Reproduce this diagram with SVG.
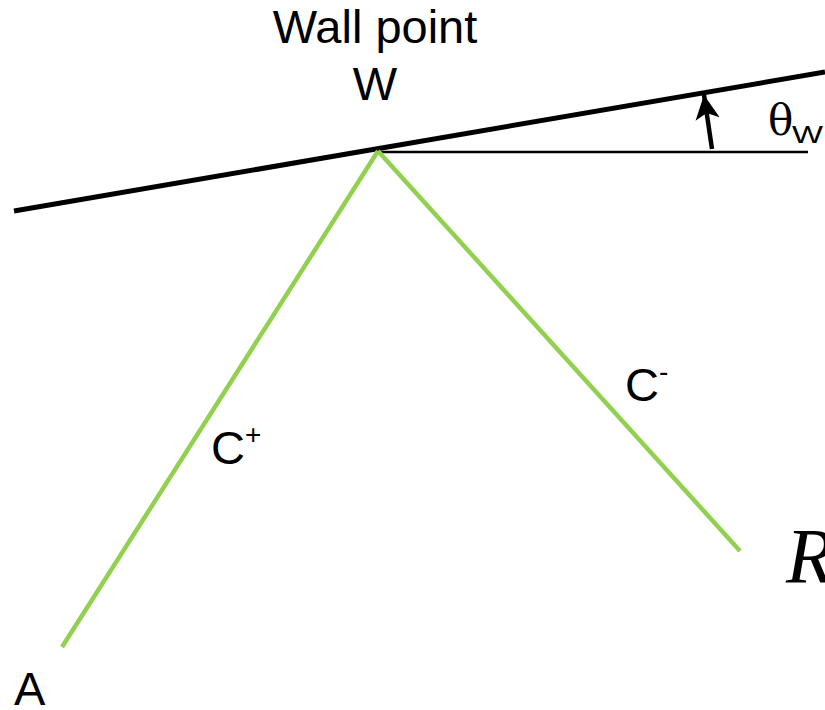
<svg xmlns="http://www.w3.org/2000/svg" width="825" height="710" viewBox="0 0 825 710">
<style>
.t{font-family:"Liberation Sans",Arial,sans-serif;fill:#000}
.g{stroke:#92D050;stroke-width:4.5;fill:none}
</style>
<defs>
<marker id="ah" viewBox="0 0 10 10" refX="10" refY="5" markerWidth="5.4" markerHeight="5.8" orient="auto" markerUnits="strokeWidth">
<path d="M0,0 L10,5 L0,10 L2.5,5 z" fill="#000"/>
</marker>
</defs>
<g id="wall">
<line x1="14" y1="211" x2="825" y2="72" stroke="#000" stroke-width="5"/>
<line x1="378" y1="152" x2="808" y2="152" stroke="#000" stroke-width="2.5"/>
</g>
<g id="connectors">
<line class="g" x1="378" y1="151" x2="62" y2="647"/>
<line class="g" x1="378" y1="151" x2="740" y2="551"/>
<line x1="712" y1="149" x2="704" y2="95" stroke="#000" stroke-width="4.5" marker-end="url(#ah)"/>
</g>
<g id="labelW">
<text class="t" x="375" y="43" font-size="47" text-anchor="middle">Wall point</text>
<text class="t" x="375" y="100" font-size="47" text-anchor="middle">W</text>
</g>
<g id="theta">
<text x="768" y="135" font-family="'DejaVu Serif','Liberation Serif',serif" font-size="42">θ</text>
<text class="t" x="792" y="143" font-size="23" textLength="31" lengthAdjust="spacingAndGlyphs">W</text>
</g>
<g id="cplus">
<text class="t" x="211" y="464" font-size="47">C<tspan font-size="28" dy="-20">+</tspan></text>
</g>
<g id="cminus">
<text class="t" x="625" y="401" font-size="47">C<tspan font-size="28" dy="-20">-</tspan></text>
</g>
<g id="labelA">
<text class="t" x="14" y="705" font-size="47">A</text>
</g>
<g id="labelR">
<text x="786" y="582" font-family="'Liberation Serif','Times New Roman',serif" font-style="italic" font-size="78">R</text>
</g>
</svg>
